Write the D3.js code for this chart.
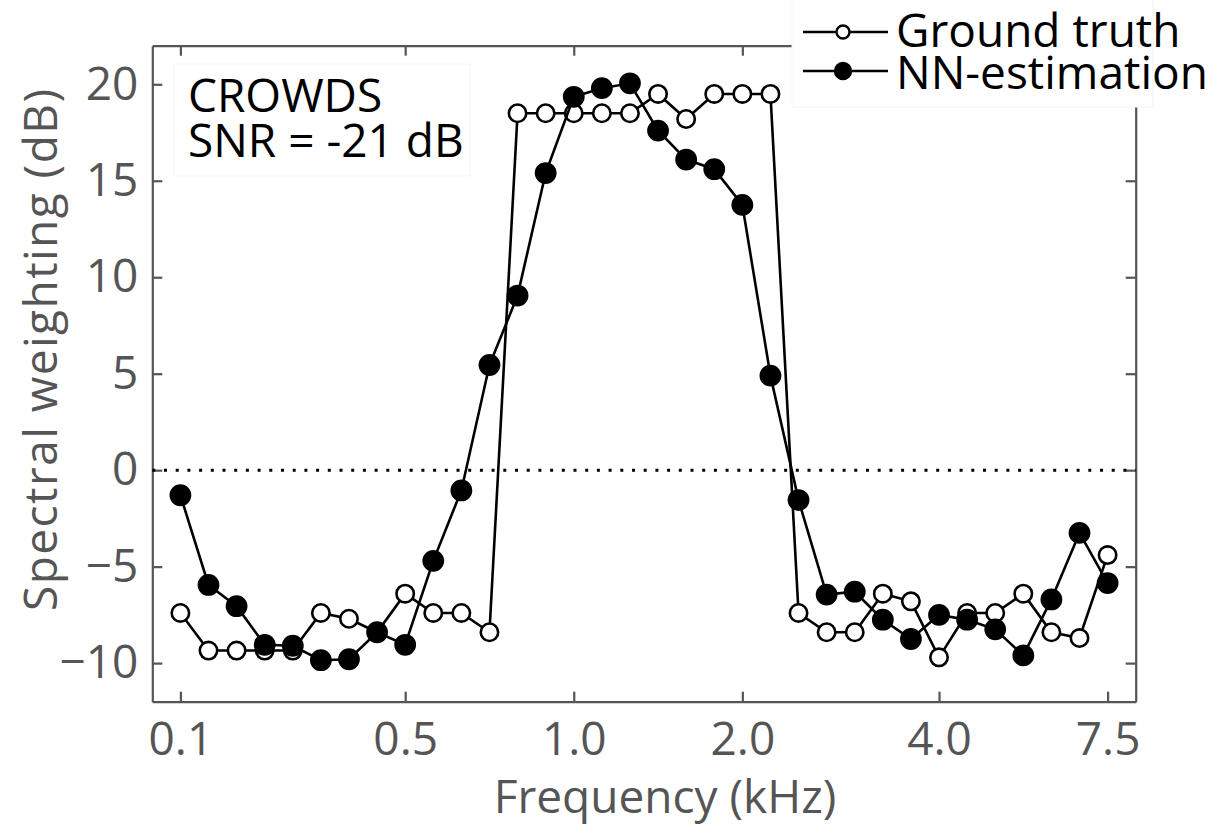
<!DOCTYPE html>
<html>
<head>
<meta charset="utf-8">
<script src="https://cdn.jsdelivr.net/npm/d3@7"></script>
<style>
  body { margin: 0; background: #fff; }
  svg { display: block; }
</style>
</head>
<body>
<div id="chart"></div>
<script>
{ // limit scope...
// Channel index (1..34) on the frequency axis, values in dB.
const groundTruth = [
    -7.4, -9.35, -9.35, -9.35, -9.35, -7.4, -7.7, -8.4, -6.4, -7.4,
    -7.4, -8.4, 18.5, 18.5, 18.5, 18.5, 18.5, 19.5, 18.2, 19.5,
    19.5, 19.5, -7.4, -8.4, -8.4, -6.4, -6.8, -9.7, -7.4, -7.4,
    -6.4, -8.4, -8.7, -4.4
];
const nnEstimation = [
    -1.3, -5.95, -7.05, -9.05, -9.1, -9.85, -9.8, -8.4, -9.05, -4.7,
    -1.05, 5.45, 9.05, 15.4, 19.35, 19.8, 20.05, 17.6, 16.1, 15.6,
    13.75, 4.9, -1.55, -6.45, -6.3, -7.75, -8.75, -7.5, -7.75, -8.25,
    -9.6, -6.7, -3.25, -5.85
];
// Tick positions (channel index) and their frequency labels (kHz).
const xTickIndex = [1, 9, 15, 21, 28, 34];
const xTickLabels = ["0.1", "0.5", "1.0", "2.0", "4.0", "7.5"];
const yTicks = [-10, -5, 0, 5, 10, 15, 20];

const width = 1220,
      height = 826;
const left = 152.3, right = 1135.7, top = 45.7, bottom = 701.7;
const axisColor = "#555";
const font = "'Open Sans', 'Noto Sans', sans-serif";
const fontSize = "46px";

const svg = d3.select("#chart").append("svg")
    .attr("width", width)
    .attr("height", height)
    .style("font-family", font);

const x = d3.scaleLinear([0, 35], [left, right]);
const y = d3.scaleLinear([-12, 22], [bottom, top]);

// Annotation box (barely visible border).
svg.append("rect")
    .attr("x", 174).attr("y", 64)
    .attr("width", 296).attr("height", 112)
    .attr("fill", "white")
    .attr("stroke", "#f5f5f5");

// Axes, ticks pointing inward on all four sides.
const tickLabels = d => xTickLabels[xTickIndex.indexOf(d)];
const styleAxis = g => {
    g.select(".domain").attr("stroke", axisColor).attr("stroke-width", 2.2);
    g.selectAll(".tick line").attr("stroke", axisColor).attr("stroke-width", 2.2);
    g.selectAll(".tick text")
        .attr("fill", axisColor)
        .style("font-family", font)
        .style("font-size", fontSize);
};

svg.append("g")
    .attr("transform", `translate(0,${bottom})`)
    .call(d3.axisBottom(x).tickValues(xTickIndex).tickFormat(tickLabels)
        .tickSizeInner(-10).tickSizeOuter(0).tickPadding(21))
    .call(styleAxis);

svg.append("g")
    .attr("transform", `translate(0,${top})`)
    .call(d3.axisTop(x).tickValues(xTickIndex).tickFormat("")
        .tickSizeInner(-10).tickSizeOuter(0))
    .call(styleAxis);

svg.append("g")
    .attr("transform", `translate(${left},0)`)
    .call(d3.axisLeft(y).tickValues(yTicks)
        .tickSizeInner(-10).tickSizeOuter(0).tickPadding(14))
    .call(styleAxis);

svg.append("g")
    .attr("transform", `translate(${right},0)`)
    .call(d3.axisRight(y).tickValues(yTicks).tickFormat("")
        .tickSizeInner(-10).tickSizeOuter(0))
    .call(styleAxis);

// Axis titles.
svg.append("text")
    .attr("x", 665).attr("y", 813)
    .attr("text-anchor", "middle")
    .attr("fill", axisColor)
    .style("font-size", fontSize)
    .text("Frequency (kHz)");

svg.append("text")
    .attr("transform", `translate(57,350) rotate(-90)`)
    .attr("text-anchor", "middle")
    .attr("fill", axisColor)
    .attr("textLength", 522)
    .attr("lengthAdjust", "spacing")
    .style("font-size", fontSize)
    .text("Spectral weighting (dB)");

// Dotted zero line.
svg.append("line")
    .attr("x1", left).attr("x2", right)
    .attr("y1", y(0)).attr("y2", y(0))
    .attr("stroke", "black")
    .attr("stroke-width", 3)
    .attr("stroke-dasharray", "3 8.7");

// Series.
const line = d3.line()
    .x((d, i) => x(i + 1))
    .y(d => y(d));

const series = [
    { values: groundTruth, fill: "white", r: 8.7 },
    { values: nnEstimation, fill: "black", r: 9.6 }
];

series.forEach(s => {
    const g = svg.append("g");
    g.append("path")
        .datum(s.values)
        .attr("d", line)
        .attr("fill", "none")
        .attr("stroke", "black")
        .attr("stroke-width", 2.6);
    g.selectAll("circle")
        .data(s.values)
        .join("circle")
            .attr("cx", (d, i) => x(i + 1))
            .attr("cy", d => y(d))
            .attr("r", s.r)
            .attr("fill", s.fill)
            .attr("stroke", "black")
            .attr("stroke-width", 2.6);
});

// Annotation text.
svg.append("text")
    .attr("x", 188).attr("y", 112)
    .attr("fill", "black")
    .style("font-size", fontSize)
    .text("CROWDS");
svg.append("text")
    .attr("x", 188).attr("y", 157)
    .attr("fill", "black")
    .style("font-size", fontSize)
    .text("SNR = -21 dB");

// Legend, covering the top-right corner of the box.
const legend = svg.append("g");
legend.append("rect")
    .attr("x", 792).attr("y", -1)
    .attr("width", 361).attr("height", 108)
    .attr("fill", "white")
    .attr("stroke", "#f3f3f3");

const legendItems = [
    { label: "Ground truth", fill: "white", r: 6.5, cy: 32, base: 47 },
    { label: "NN-estimation", fill: "black", r: 8, cy: 71, base: 89 }
];
legendItems.forEach(d => {
    legend.append("line")
        .attr("x1", 803).attr("x2", 888)
        .attr("y1", d.cy).attr("y2", d.cy)
        .attr("stroke", "black").attr("stroke-width", 2.6);
    legend.append("circle")
        .attr("cx", 843).attr("cy", d.cy).attr("r", d.r)
        .attr("fill", d.fill)
        .attr("stroke", "black").attr("stroke-width", 2.4);
    legend.append("text")
        .attr("x", 896).attr("y", d.base)
        .attr("fill", "black")
        .style("font-size", fontSize)
        .text(d.label);
});
}
</script>
</body>
</html>
